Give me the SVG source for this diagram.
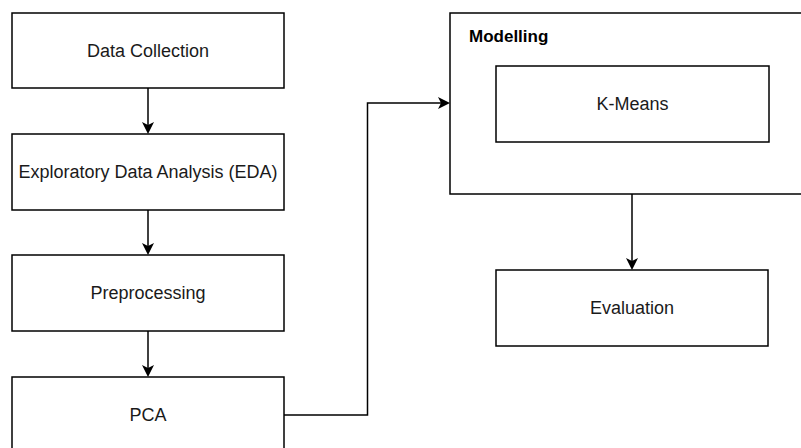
<svg xmlns="http://www.w3.org/2000/svg" width="801" height="448" viewBox="0 0 801 448">
<style>
.box{fill:#fff;stroke:#000;stroke-width:1.5}
.lbl{font-family:"Liberation Sans",Arial,sans-serif;font-size:18px;fill:#1a1a1a;text-anchor:middle}
.title{font-family:"Liberation Sans",Arial,sans-serif;font-size:17px;font-weight:bold;fill:#000}
.edge{fill:none;stroke:#000;stroke-width:1.5}
</style>
<defs>
<marker id="arr" markerUnits="userSpaceOnUse" markerWidth="16" markerHeight="16" viewBox="-14 -8 16 16" refX="-3" refY="0" orient="auto">
<path d="M0,0 L-12,-6 L-9,0 L-12,6 Z" fill="#000"/>
</marker>
</defs>
<rect width="801" height="448" fill="#fff"/>
<g id="modelling">
<rect class="box" x="450" y="13" width="380" height="181"/>
<text class="title" x="469" y="42">Modelling</text>
</g>
<g id="data-collection">
<rect class="box" x="12" y="13" width="272" height="75"/>
<text class="lbl" x="148" y="56.5">Data Collection</text>
</g>
<g id="eda">
<rect class="box" x="12" y="134" width="272" height="76"/>
<text class="lbl" x="148" y="178">Exploratory Data Analysis (EDA)</text>
</g>
<g id="preprocessing">
<rect class="box" x="12" y="255" width="272" height="76"/>
<text class="lbl" x="148" y="299">Preprocessing</text>
</g>
<g id="pca">
<rect class="box" x="12" y="377" width="272" height="76"/>
<text class="lbl" x="148" y="421">PCA</text>
</g>
<g id="kmeans">
<rect class="box" x="496" y="66" width="273" height="76"/>
<text class="lbl" x="632.5" y="110">K-Means</text>
</g>
<g id="evaluation">
<rect class="box" x="496" y="270" width="272" height="76"/>
<text class="lbl" x="632" y="314">Evaluation</text>
</g>
<g id="connectors">
<path class="edge" d="M148,88 V131" marker-end="url(#arr)"/>
<path class="edge" d="M148,210 V252" marker-end="url(#arr)"/>
<path class="edge" d="M148,331 V374" marker-end="url(#arr)"/>
<path class="edge" d="M284,415 H367.5 V103 H447" marker-end="url(#arr)"/>
<path class="edge" d="M632,194 V267" marker-end="url(#arr)"/>
</g>
</svg>
